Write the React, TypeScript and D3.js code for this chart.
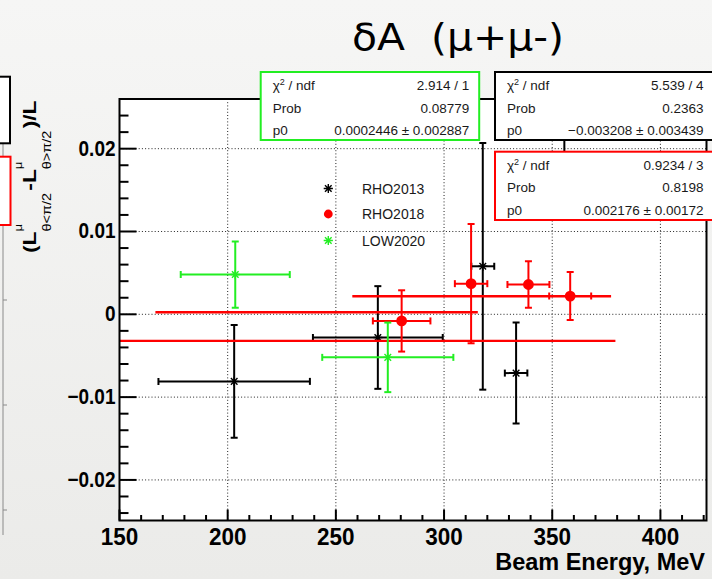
import React from 'react';
import * as d3 from 'd3';

const W = 712;
const H = 579;

// RHO2013 (black stars)
const rho2013Energy = [203, 269.4, 317.9, 333.3, 355.6];
const rho2013EnergyErr = [35, 30, 5.3, 5.2, 5];
const rho2013Asym = [-0.0081, -0.0028, 0.0058, -0.0071, 0.0175];
const rho2013AsymErr = [0.0068, 0.0062, 0.0149, 0.0061, 0.006];

// RHO2018 (red circles)
const rho2018Energy = [280.4, 312.5, 339, 358.3];
const rho2018EnergyErr = [13.3, 7.5, 9.7, 9.7];
const rho2018Asym = [-0.0008, 0.0037, 0.0036, 0.0022];
const rho2018AsymErr = [0.0037, 0.0072, 0.0028, 0.0029];

// LOW2020 (green stars)
const low2020Energy = [203.5, 274];
const low2020EnergyErr = [25.2, 30.3];
const low2020Asym = [0.0048, -0.0052];
const low2020AsymErr = [0.004, 0.0042];

// constant fits p0: RHO2013, RHO2018, LOW2020
const fitP0 = [-0.003208, 0.002176, 0.0002446];
const fitFrom = [150, 257.6, 166.6];
const fitTo = [379.2, 377.2, 315.6];

// stat boxes: LOW2020 (green), RHO2013 (black), RHO2018 (red)
const statChi2 = ['2.914 / 1', '5.539 / 4', '0.9234 / 3'];
const statProb = ['0.08779', '0.2363', '0.8198'];
const statP0 = ['0.0002446 ± 0.002887', '−0.003208 ± 0.003439', '0.002176 ± 0.00172'];

const legendLabels = ['RHO2013', 'RHO2018', 'LOW2020'];
const xTicks = [150, 200, 250, 300, 350, 400];
const yTicks = [-0.02, -0.01, 0, 0.01, 0.02];

const BLACK = '#000000';
const RED = '#ff0000';
const GREEN = '#22ee22';
const FONT = '"Liberation Sans", Arial, Helvetica, sans-serif';

const x = d3.scaleLinear().domain([150, 421.3]).range([119.5, 706.5]);
const y = d3.scaleLinear().domain([-0.0249, 0.026]).range([520.5, 99]);

function starPath(s: number) {
  const d = s * 0.72;
  return `M${-s},0L${s},0M0,${-s}L0,${s}M${-d},${-d}L${d},${d}M${-d},${d}L${d},${-d}`;
}

type Series = {
  e: number[]; ee: number[]; a: number[]; ae: number[]; color: string; marker: 'star' | 'circle';
};

const series: Series[] = [
  { e: rho2013Energy, ee: rho2013EnergyErr, a: rho2013Asym, ae: rho2013AsymErr, color: BLACK, marker: 'star' },
  { e: rho2018Energy, ee: rho2018EnergyErr, a: rho2018Asym, ae: rho2018AsymErr, color: RED, marker: 'circle' },
  { e: low2020Energy, ee: low2020EnergyErr, a: low2020Asym, ae: low2020AsymErr, color: GREEN, marker: 'star' },
];

function Marker({ kind, color, cx, cy }: { kind: string; color: string; cx: number; cy: number }) {
  if (kind === 'circle') return <circle cx={cx} cy={cy} r={4.4} fill={color} />;
  return <path d={starPath(4.6)} transform={`translate(${cx},${cy})`} stroke={color} strokeWidth={1.4} fill="none" />;
}

function GraphPoints({ s }: { s: Series }) {
  const cap = 3.5;
  return (
    <g>
      {s.e.map((e, i) => {
        const cx = x(e);
        const cy = y(s.a[i]);
        const x0 = x(e - s.ee[i]);
        const x1 = x(e + s.ee[i]);
        const y0 = y(s.a[i] - s.ae[i]);
        const y1 = y(s.a[i] + s.ae[i]);
        return (
          <g key={i} stroke={s.color} strokeWidth={2} fill="none">
            <line x1={x0} x2={x1} y1={cy} y2={cy} />
            <line x1={x0} x2={x0} y1={cy - cap} y2={cy + cap} />
            <line x1={x1} x2={x1} y1={cy - cap} y2={cy + cap} />
            <line x1={cx} x2={cx} y1={y0} y2={y1} />
            <line x1={cx - cap} x2={cx + cap} y1={y0} y2={y0} />
            <line x1={cx - cap} x2={cx + cap} y1={y1} y2={y1} />
            <Marker kind={s.marker} color={s.color} cx={cx} cy={cy} />
          </g>
        );
      })}
    </g>
  );
}

function StatBox({ bx, by, w, h, color, idx }: { bx: number; by: number; w: number; h: number; color: string; idx: number }) {
  const rows = [
    { label: <>χ<tspan dy={-5} fontSize={9}>2</tspan><tspan dy={5}> / ndf</tspan></>, val: statChi2[idx] },
    { label: <>Prob</>, val: statProb[idx] },
    { label: <>p0</>, val: statP0[idx] },
  ];
  return (
    <g>
      <rect x={bx} y={by} width={w} height={h} fill="#ffffff" stroke={color} strokeWidth={2} />
      {rows.map((r, i) => (
        <g key={i} fontFamily={FONT} fontSize={13.5} fill="#1a1a1a">
          <text x={bx + 12} y={by + 18 + i * 22.5}>{r.label}</text>
          <text x={bx + 208.5} y={by + 18 + i * 22.5} textAnchor="end">{r.val}</text>
        </g>
      ))}
    </g>
  );
}

export default function App() {
  const frame = { x: 119.5, y: 99, w: 587, h: 421.5 };
  const yMinor = d3.range(-0.024, 0.0261, 0.002).filter((v) => Math.abs(Math.round(v * 100) - v * 100) > 1e-6);
  const xMinor = d3.range(160, 421, 10).filter((v) => v % 50 !== 0);
  const fmtY = (v: number) => (Math.abs(v) < 1e-9 ? '0' : (v < 0 ? '−' : '') + Math.abs(v).toFixed(2));

  return (
    <svg width={W} height={H} style={{ position: 'fixed', left: 0, top: 0, display: 'block' }}>
      <defs>
        <linearGradient id="bg" x1="0" y1="0" x2="0" y2="1">
          <stop offset="0" stopColor="#f6f6f5" />
          <stop offset="1" stopColor="#ebebe9" />
        </linearGradient>
        <clipPath id="frameClip">
          <rect x={frame.x} y={frame.y} width={frame.w} height={frame.h} />
        </clipPath>
      </defs>
      <rect x={0} y={0} width={W} height={H} fill="url(#bg)" />

      {/* neighbouring panel remnants on the left */}
      <line x1={3} x2={3} y1={140} y2={535} stroke="#8a8a8a" strokeWidth={1} />
      {[300, 405, 510].map((t) => (
        <line key={t} x1={3} x2={7} y1={t} y2={t} stroke="#8a8a8a" strokeWidth={1} />
      ))}
      <rect x={-10} y={76.7} width={20} height={66.6} fill="#ffffff" stroke="#000" strokeWidth={2} />
      <rect x={-10} y={156.7} width={20.5} height={68.3} fill="#ffffff" stroke={RED} strokeWidth={2} />

      {/* title */}
      <text x={352} y={50} fontFamily='"DejaVu Sans", sans-serif' fontSize={38} fill="#000"
        textLength={212} lengthAdjust="spacingAndGlyphs" style={{ whiteSpace: 'pre' }}>
        {'δA  (μ+μ-)'}
      </text>

      {/* frame */}
      <rect x={frame.x} y={frame.y} width={frame.w} height={frame.h} fill="#ffffff" />

      {/* grid */}
      <g stroke="#222" strokeWidth={1} strokeDasharray="1,2.2">
        {xTicks.filter((t) => t > 150).map((t) => (
          <line key={t} x1={x(t)} x2={x(t)} y1={frame.y} y2={frame.y + frame.h} />
        ))}
        {yTicks.map((t) => (
          <line key={t} x1={frame.x} x2={frame.x + frame.w} y1={y(t)} y2={y(t)} />
        ))}
      </g>

      {/* data + fits */}
      <g clipPath="url(#frameClip)">
        {series.map((s, k) => (
          <g key={k}>
            <GraphPoints s={s} />
            <line x1={x(fitFrom[k])} x2={x(fitTo[k])} y1={y(fitP0[k])} y2={y(fitP0[k])} stroke={RED} strokeWidth={2.4} />
          </g>
        ))}
      </g>

      {/* axes ticks */}
      <g stroke="#000" strokeWidth={2}>
        {yTicks.map((t) => (
          <line key={t} x1={frame.x} x2={frame.x + 17} y1={y(t)} y2={y(t)} />
        ))}
        {yMinor.map((t) => (
          <line key={t} x1={frame.x} x2={frame.x + 9} y1={y(t)} y2={y(t)} />
        ))}
        {xTicks.map((t) => (
          <line key={t} x1={x(t)} x2={x(t)} y1={frame.y + frame.h} y2={frame.y + frame.h - 11} />
        ))}
        {xMinor.map((t) => (
          <line key={t} x1={x(t)} x2={x(t)} y1={frame.y + frame.h} y2={frame.y + frame.h - 5.5} />
        ))}
      </g>
      <rect x={frame.x} y={frame.y} width={frame.w} height={frame.h} fill="none" stroke="#000" strokeWidth={2} />

      {/* tick labels */}
      <g fontFamily={FONT} fontWeight="bold" fill="#000">
        {yTicks.map((t) => (
          <text key={t} transform={`translate(${frame.x - 4},${y(t) + 7}) scale(1,1.12)`} fontSize={19} textAnchor="end">
            {fmtY(t)}
          </text>
        ))}
        {xTicks.map((t) => (
          <text key={t} transform={`translate(${x(t)},${545}) scale(1,1.1)`} fontSize={22.5} textAnchor="middle">
            {t}
          </text>
        ))}
        <text x={705} y={570} fontSize={23.5} textAnchor="end">Beam Energy, MeV</text>
      </g>

      {/* y axis title */}
      <g transform="translate(36,253) scale(1,1.2) rotate(-90)" fontFamily={FONT} fill="#000">
        <text x={0} y={0} fontSize={19} fontWeight="bold">
          (L
          <tspan dy={-14} fontSize={11} fontWeight="normal">μ</tspan>
          <tspan dx={-6.3} dy={29} fontSize={12} fontWeight="normal">θ&lt;π/2</tspan>
          <tspan dy={-15} dx={2}>-L</tspan>
          <tspan dy={-14} fontSize={11} fontWeight="normal">μ</tspan>
          <tspan dx={-6.3} dy={29} fontSize={12} fontWeight="normal">θ&gt;π/2</tspan>
          <tspan dy={-15} dx={2}>)/L</tspan>
        </text>
      </g>

      {/* legend */}
      <g fontFamily={FONT} fontSize={14} fill="#1a1a1a">
        {legendLabels.map((lab, i) => {
          const cy = [188.5, 214, 240.5][i];
          const s = series[i];
          return (
            <g key={lab}>
              <Marker kind={s.marker} color={s.color} cx={328.3} cy={cy} />
              <text x={362} y={cy + 5}>{lab}</text>
            </g>
          );
        })}
      </g>

      {/* stat boxes */}
      <StatBox bx={260.7} by={72} w={218.5} h={68} color={GREEN} idx={0} />
      <StatBox bx={495} by={72} w={222} h={68} color={BLACK} idx={1} />
      <StatBox bx={495} by={151.7} w={222} h={68.3} color={RED} idx={2} />
    </svg>
  );
}
